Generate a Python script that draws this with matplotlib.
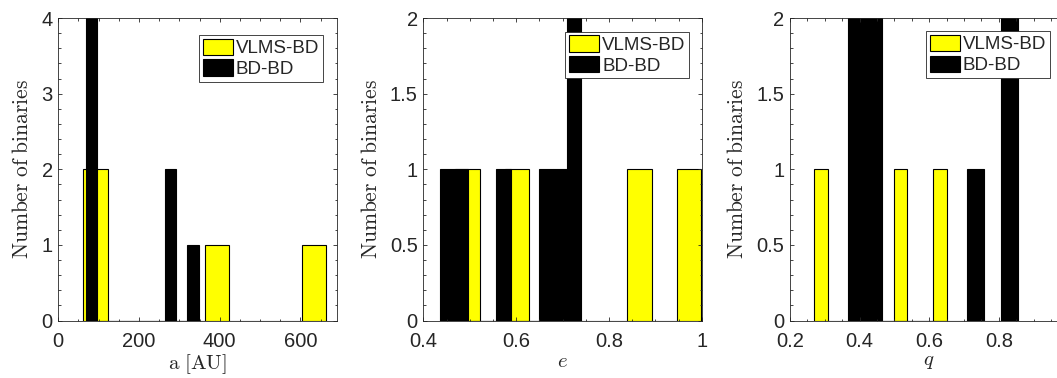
import numpy as np
import matplotlib
matplotlib.use("Agg")
import matplotlib.pyplot as plt
from matplotlib.ticker import MultipleLocator, FuncFormatter
from matplotlib.patches import Patch

# ---------------- data (histogram counts, 10 bins each, and bin ranges) -------------
series_labels = ["VLMS-BD", "BD-BD"]

a_vlms_counts = [2, 0, 0, 0, 0, 1, 0, 0, 0, 1]
a_vlms_range = (62, 663)
a_bd_counts = [4, 0, 0, 0, 0, 0, 0, 2, 0, 1]
a_bd_range = (69, 348)

e_vlms_counts = [1, 0, 1, 0, 0, 0, 0, 1, 0, 1]
e_vlms_range = (0.469, 0.999)
e_bd_counts = [1, 1, 0, 0, 1, 0, 0, 1, 1, 2]
e_bd_range = (0.436, 0.740)

q_vlms_counts = [1, 0, 0, 1, 0, 0, 1, 0, 0, 1]
q_vlms_range = (0.270, 0.650)
q_bd_counts = [2, 2, 0, 0, 0, 0, 0, 1, 0, 2]
q_bd_range = (0.366, 0.854)

x_labels = [r"$\mathrm{a\ [AU]}$", r"$e$", r"$q$"]
y_label = r"$\mathrm{Number\ of\ binaries}$"
x_ticks = [[0, 200, 400, 600], [0.4, 0.6, 0.8, 1.0], [0.2, 0.4, 0.6, 0.8]]
y_ticks = [[0, 1, 2, 3, 4], [0, 0.5, 1, 1.5, 2], [0, 0.5, 1, 1.5, 2]]
x_lims = [(0, 690), (0.4, 1.0), (0.2, 1.0)]
y_lims = [(0, 4), (0, 2), (0, 2)]
x_minor = [50, 0.05, 0.05]
y_minor = [0.2, 0.1, 0.1]

# ---------------- style ----------------
plt.rcParams["font.family"] = ["Liberation Sans", "DejaVu Sans"]
plt.rcParams["mathtext.fontset"] = "cm"
AX_COL = "#262626"
YEL = "#ffff00"

W, H = 1057, 378
fig = plt.figure(figsize=(W / 100, H / 100), dpi=100)

ax_left_px = [58.3, 423.3, 790.0]
ax_w_px = 278.4
ax_top_px, ax_bot_px = 18.0, 320.5

panels = [
    (a_vlms_counts, a_vlms_range, a_bd_counts, a_bd_range),
    (e_vlms_counts, e_vlms_range, e_bd_counts, e_bd_range),
    (q_vlms_counts, q_vlms_range, q_bd_counts, q_bd_range),
]
legend_anchor = [(0.951, 0.944), (0.955, 0.955), (0.934, 0.957)]


def fmt(v, pos):
    return "%g" % v


for i, (vc, vr, bc, br) in enumerate(panels):
    ax = fig.add_axes([ax_left_px[i] / W, (H - ax_bot_px) / H,
                       ax_w_px / W, (ax_bot_px - ax_top_px) / H])
    for counts, rng, col in ((vc, vr, YEL), (bc, br, "black")):
        edges = np.linspace(rng[0], rng[1], len(counts) + 1)
        ax.bar(edges[:-1], counts, width=np.diff(edges), align="edge",
               color=col, edgecolor="black", linewidth=0.8)
    ax.set_xlim(*x_lims[i])
    ax.set_ylim(*y_lims[i])
    ax.set_xticks(x_ticks[i])
    ax.set_yticks(y_ticks[i])
    ax.xaxis.set_major_formatter(FuncFormatter(fmt))
    ax.yaxis.set_major_formatter(FuncFormatter(fmt))
    ax.xaxis.set_minor_locator(MultipleLocator(x_minor[i]))
    ax.yaxis.set_minor_locator(MultipleLocator(y_minor[i]))
    ax.tick_params(which="both", direction="in", top=True, right=True,
                   color=AX_COL, labelcolor=AX_COL, labelsize=14.5, width=0.6)
    ax.tick_params(which="major", length=3.0)
    ax.tick_params(axis="x", which="major", pad=8)
    ax.tick_params(axis="y", which="major", pad=4)
    ax.tick_params(which="minor", length=1.8)
    for s in ax.spines.values():
        s.set_color(AX_COL)
        s.set_linewidth(0.6)
    ax.set_xlabel(x_labels[i], fontsize=15, color=AX_COL, labelpad=1)
    ax.set_ylabel(y_label, fontsize=15.5, color=AX_COL, labelpad=6)
    handles = [Patch(facecolor=YEL, edgecolor="black", linewidth=0.8),
               Patch(facecolor="black", edgecolor="black", linewidth=0.8)]
    leg = ax.legend(handles, series_labels, loc="upper right",
                    bbox_to_anchor=legend_anchor[i], borderaxespad=0,
                    fontsize=13.5, fancybox=False, framealpha=1,
                    edgecolor=AX_COL, handlelength=1.6, handleheight=0.95,
                    handletextpad=0.15, labelspacing=0.12, borderpad=0.2)
    leg.get_frame().set_linewidth(0.6)
    for t in leg.get_texts():
        t.set_color(AX_COL)

fig.savefig("out.png", dpi=100)
